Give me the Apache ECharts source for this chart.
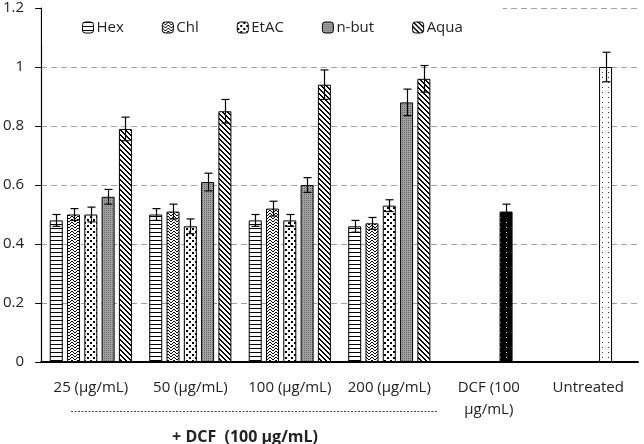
<!DOCTYPE html>
<html><head><meta charset="utf-8">
<script src="https://cdn.jsdelivr.net/npm/echarts@6/dist/echarts.min.js"></script>
<style>html,body{margin:0;padding:0;background:#fff}#c{width:644px;height:444px}</style>
</head><body><div id="c"></div>
<script>
// ---- data ----
const categories = ['25 (μg/mL)', '50 (μg/mL)', '100 (μg/mL)', '200 (μg/mL)', 'DCF (100\nμg/mL)', 'Untreated'];
const seriesNames = ['Hex', 'Chl', 'EtAC', 'n-but', 'Aqua'];
const hex  = [0.48, 0.50, 0.48, 0.46];
const chl  = [0.50, 0.51, 0.52, 0.47];
const etac = [0.50, 0.46, 0.48, 0.53];
const nbut = [0.56, 0.61, 0.60, 0.88];
const aqua = [0.79, 0.85, 0.94, 0.96];
const hexErr  = [0.02, 0.02, 0.02, 0.02];
const chlErr  = [0.02, 0.025, 0.025, 0.02];
const etacErr = [0.025, 0.025, 0.02, 0.02];
const nbutErr = [0.025, 0.03, 0.025, 0.045];
const aquaErr = [0.04, 0.04, 0.05, 0.045];
const dcfValue = 0.51, dcfErr = 0.025;
const untreatedValue = 1.00, untreatedErr = 0.05;
const yTicks = [0, 0.2, 0.4, 0.6, 0.8, 1, 1.2];

// ---- patterns ----
function pat(w, h, bg, draw) {
  const c = document.createElement('canvas'); c.width = w; c.height = h;
  const g = c.getContext('2d'); g.fillStyle = bg; g.fillRect(0, 0, w, h);
  g.fillStyle = '#000'; draw(g); return { image: c, repeat: 'repeat' };
}
const pHex = pat(4, 4, '#fff', g => { g.fillRect(0, 0, 4, 1); });
const pChl = pat(6, 6, '#fff', g => {
  g.strokeStyle = '#000'; g.lineWidth = 1; g.beginPath();
  g.moveTo(0, 0); g.lineTo(3, 3); g.lineTo(6, 0);
  g.moveTo(0, 3); g.lineTo(3, 6); g.lineTo(6, 3);
  g.stroke();
});
const pEt = pat(6, 6, '#fff', g => { g.fillRect(0, 0, 2, 2); g.fillRect(3, 3, 2, 2); });
const pNb = pat(2, 2, '#a0a0a0', g => { g.fillStyle = '#666'; g.fillRect(0, 0, 1, 1); });
const pAq = pat(5, 5, '#fff', g => { for (let i = 0; i < 5; i++) { g.fillRect(i, i, 1, 1); g.fillRect((i + 1) % 5, i, 1, 1); } });
const pDcf = pat(6, 5, '#000', g => { g.fillStyle = '#fff'; g.fillRect(2, 2, 1, 1); });
const pUnt = pat(6, 5, '#fff', g => { g.fillStyle = '#333'; g.fillRect(2, 2, 1, 1); });
const patterns = [pHex, pChl, pEt, pNb, pAq];

const BW = 13, GAP = 0.33, SLOT = BW * (1 + GAP);
const values = [hex, chl, etac, nbut, aqua];
const errs = [hexErr, chlErr, etacErr, nbutErr, aquaErr];

const barSeries = seriesNames.map((name, s) => {
  let data = values[s].slice();
  if (s === 3) {
    data = data.concat([
      { value: dcfValue, itemStyle: { color: pDcf } },
      { value: untreatedValue, itemStyle: { color: pUnt } }
    ]);
  }
  return {
    name, type: 'bar', data, barWidth: BW, barGap: (GAP * 100) + '%',
    itemStyle: { color: patterns[s], borderColor: '#000', borderWidth: 1 },
    z: 2
  };
});

const errData = [];
values.forEach((arr, s) => arr.forEach((v, i) => errData.push([i, v, errs[s][i], s])));
errData.push([4, dcfValue, dcfErr, 3]);
errData.push([5, untreatedValue, untreatedErr, 3]);

const errSeries = {
  type: 'custom', data: errData, z: 5, silent: true,
  encode: { x: 0, y: 1 },
  renderItem(params, api) {
    const c = api.value(0), v = api.value(1), e = api.value(2), s = api.value(3);
    const p = api.coord([c, v]);
    const x = Math.round(p[0] + (s - 2) * SLOT) + 0.5;
    const t = api.coord([c, v + e])[1], b = api.coord([c, v - e])[1];
    const st = { stroke: '#000', lineWidth: 1.2 };
    return { type: 'group', children: [
      { type: 'line', shape: { x1: x, y1: t, x2: x, y2: b }, style: st },
      { type: 'line', shape: { x1: x - 4, y1: t, x2: x + 4, y2: t }, style: st },
      { type: 'line', shape: { x1: x - 4, y1: b, x2: x + 4, y2: b }, style: st }
    ] };
  }
};

const FONT = 'Open Sans';
const chart = echarts.init(document.getElementById('c'), null, { renderer: 'canvas' });
chart.setOption({
  animation: false,
  backgroundColor: '#fff',
  textStyle: { fontFamily: FONT },
  grid: { left: 40, right: 6, top: 8, bottom: 82 },
  legend: {
    data: seriesNames, left: 42, top: 0,
    padding: [20, 40, 10, 40], backgroundColor: '#fff',
    itemWidth: 11, itemHeight: 11, itemGap: 38,
    textStyle: { fontFamily: FONT, fontSize: 15, color: '#222', padding: [0, 0, 0, -2] },
    itemStyle: { borderColor: '#000', borderWidth: 1 }
  },
  xAxis: {
    type: 'category', data: categories,
    axisLine: { lineStyle: { color: '#000', width: 2 } },
    axisTick: { lineStyle: { color: '#000', width: 1.5 }, length: 6 },
    axisLabel: { fontFamily: FONT, fontSize: 15, color: '#222', margin: 15, lineHeight: 22, interval: 0 }
  },
  yAxis: {
    type: 'value', min: 0, max: 1.2, interval: 0.2,
    axisLine: { show: true, lineStyle: { color: '#000', width: 1.2 } },
    axisTick: { show: true, length: 6, lineStyle: { color: '#000' } },
    splitLine: { lineStyle: { color: '#a0a0a0', type: [6, 4], width: 1 } },
    axisLabel: {
      fontFamily: FONT, fontSize: 15, color: '#222', margin: 17,
      formatter: v => { const t = yTicks.find(x => Math.abs(x - v) < 1e-9); return t === undefined ? '' : String(t); }
    }
  },
  graphic: [
    { type: 'line', shape: { x1: 71, y1: 411.5, x2: 438, y2: 411.5 }, style: { stroke: '#444', lineWidth: 1, lineDash: [2, 1.5] } },
    { type: 'text', x: 245, y: 437, style: { text: '+ DCF  (100 μg/mL)', font: 'bold 16px ' + FONT, fill: '#222', align: 'center', verticalAlign: 'middle' } }
  ],
  series: barSeries.concat([errSeries])
});
</script></body></html>
